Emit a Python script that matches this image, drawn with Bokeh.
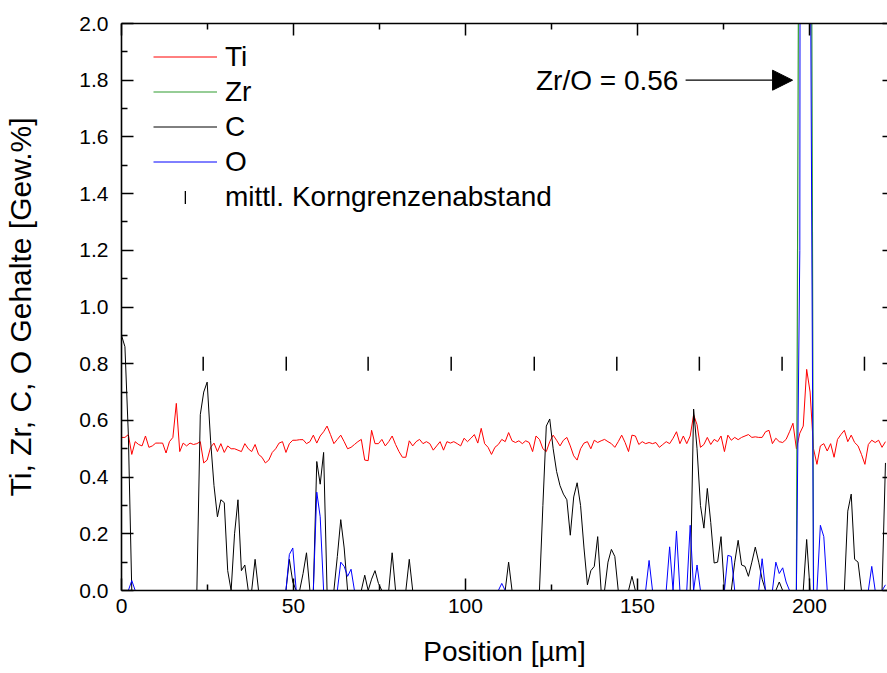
import numpy as np
from bokeh.plotting import figure
from bokeh.models import (Range1d, LinearAxis, FixedTicker, NumeralTickFormatter,
                          Label, Arrow, NormalHead, Legend, LegendItem)
from bokeh.embed import file_html
from bokeh.resources import INLINE

# ---------------- data ----------------
STEP_UM = 0.996  # spacing of the line-scan points in µm

ti = [0.54, 0.54, 0.55, 0.48, 0.525, 0.515, 0.51, 0.545, 0.505, 0.51,
      0.52, 0.52, 0.52, 0.485, 0.525, 0.54, 0.66, 0.49, 0.52, 0.51,
      0.52, 0.515, 0.518, 0.525, 0.45, 0.46, 0.505, 0.52, 0.49, 0.518,
      0.487, 0.51, 0.50, 0.50, 0.495, 0.49, 0.518, 0.50, 0.49, 0.515,
      0.48, 0.47, 0.45, 0.46, 0.487, 0.50, 0.52, 0.525, 0.487, 0.518,
      0.53, 0.53, 0.532, 0.532, 0.518, 0.525, 0.548, 0.52, 0.545, 0.56,
      0.58, 0.55, 0.518, 0.533, 0.548, 0.525, 0.50, 0.505, 0.515, 0.525,
      0.533, 0.46, 0.458, 0.565, 0.518, 0.518, 0.533, 0.51, 0.525, 0.545,
      0.515, 0.49, 0.47, 0.47, 0.528, 0.51, 0.525, 0.533, 0.518, 0.525,
      0.518, 0.495, 0.51, 0.525, 0.495, 0.525, 0.52, 0.525, 0.518, 0.51,
      0.537, 0.525, 0.537, 0.55, 0.52, 0.572, 0.518, 0.505, 0.48, 0.505,
      0.515, 0.533, 0.525, 0.557, 0.528, 0.522, 0.528, 0.518, 0.528, 0.522,
      0.49, 0.545, 0.533, 0.50, 0.49, 0.525, 0.548, 0.53, 0.51, 0.53,
      0.54, 0.51, 0.475, 0.46, 0.50, 0.52, 0.525, 0.50, 0.53, 0.522,
      0.528, 0.533, 0.525, 0.518, 0.505, 0.525, 0.548, 0.522, 0.49, 0.548,
      0.545, 0.515, 0.525, 0.518, 0.522, 0.518, 0.522, 0.505, 0.515, 0.525,
      0.518, 0.537, 0.56, 0.518, 0.545, 0.518, 0.545, 0.62, 0.585, 0.505,
      0.515, 0.54, 0.515, 0.533, 0.525, 0.545, 0.49, 0.548, 0.53, 0.54,
      0.532, 0.54, 0.545, 0.55, 0.54, 0.542, 0.54, 0.54, 0.56, 0.565,
      0.518, 0.537, 0.525, 0.522, 0.533, 0.56, 0.59, 0.50, 0.555, 0.58,
      0.78, 0.70, 0.50, 0.445, 0.51, 0.518, 0.492, 0.518, 0.47, 0.533,
      0.55, 0.565, 0.525, 0.548, 0.522, 0.51, 0.48, 0.445, 0.515, 0.53,
      0.522, 0.53, 0.505, 0.525]

zr = [0, 0, 0, 0, 0, 0, 0, 0, 0, 0,
      0, 0, 0, 0, 0, 0, 0, 0, 0, 0,
      0, 0, 0, 0, 0, 0, 0, 0, 0, 0,
      0, 0, 0, 0, 0, 0, 0, 0, 0, 0,
      0, 0, 0, 0, 0, 0, 0, 0, 0, 0,
      0, 0, 0, 0, 0, 0, 0, 0, 0, 0,
      0, 0, 0, 0, 0, 0, 0, 0, 0, 0,
      0, 0, 0, 0, 0, 0, 0, 0, 0, 0,
      0, 0, 0, 0, 0, 0, 0, 0, 0, 0,
      0, 0, 0, 0, 0, 0, 0, 0, 0, 0,
      0, 0, 0, 0, 0, 0, 0, 0, 0, 0,
      0, 0, 0, 0, 0, 0, 0, 0, 0, 0,
      0, 0, 0, 0, 0, 0, 0, 0, 0, 0,
      0, 0, 0, 0, 0, 0, 0, 0, 0, 0,
      0, 0, 0, 0, 0, 0, 0, 0, 0, 0,
      0, 0, 0, 0, 0, 0, 0, 0, 0, 0,
      0, 0, 0, 0, 0, 0, 0, 0, 0, 0,
      0, 0, 0, 0, 0, 0, 0, 0, 0, 0,
      0, 0, 0, 0, 0, 0, 0, 0, 0, 0,
      0, 0, 0, 0, 0, 0, 0, 0, 3.5, 9.0,
      9.0, 4.0, 0, 0, 0, 0, 0, 0, 0, 0,
      0, 0, 0, 0, 0, 0, 0, 0, 0, 0,
      0, 0, 0, 0]

c = [0.90, 0.86, 0.55, 0, 0, 0, 0, 0, 0, 0,
     0, 0, 0, 0, 0, 0, 0, 0, 0, 0,
     0, 0, 0, 0.62, 0.70, 0.735, 0.53, 0.37, 0.26, 0.32,
     0.31, 0.07, 0, 0.20, 0.32, 0.07, 0.09, 0, 0, 0.11,
     0, 0, 0, 0, 0, 0, 0, 0, 0, 0.11,
     0.03, 0, 0, 0.06, 0.133, 0, 0, 0.455, 0.375, 0.487,
     0, 0, 0, 0.12, 0.25, 0.15, 0, 0, 0, 0,
     0, 0.054, 0, 0.04, 0.07, 0.025, 0, 0, 0, 0.133,
     0, 0, 0, 0, 0.11, 0, 0, 0, 0, 0,
     0, 0, 0, 0, 0, 0, 0, 0, 0, 0,
     0, 0, 0, 0, 0, 0, 0, 0, 0, 0,
     0, 0, 0, 0.10, 0, 0, 0, 0, 0, 0,
     0, 0, 0, 0.30, 0.58, 0.605, 0.50, 0.42, 0.37, 0.34,
     0.32, 0.195, 0.33, 0.38, 0.30, 0.15, 0.02, 0.07, 0.085, 0.19,
     0, 0, 0.10, 0.145, 0.12, 0, 0, 0, 0, 0.05,
     0, 0, 0, 0, 0, 0, 0, 0, 0, 0,
     0, 0, 0, 0, 0, 0, 0, 0.64, 0.50, 0.30,
     0.22, 0.36, 0.24, 0.097, 0.10, 0.19, 0, 0, 0, 0.10,
     0.177, 0.09, 0.085, 0.05, 0.10, 0.153, 0.10, 0.04, 0, 0,
     0, 0, 0.03, 0, 0, 0, 0, 0, 0, 0,
     0.18, 0, 0, 0, 0, 0, 0, 0, 0, 0,
     0, 0, 0.28, 0.34, 0.11, 0.10, 0, 0, 0, 0,
     0, 0, 0, 0.45]

o = [0, 0, 0, 0.035, 0, 0, 0, 0, 0, 0,
     0, 0, 0, 0, 0, 0, 0, 0, 0, 0,
     0, 0, 0, 0, 0, 0, 0, 0, 0, 0,
     0, 0, 0, 0, 0, 0, 0, 0, 0, 0,
     0, 0, 0, 0, 0, 0, 0, 0, 0, 0.127,
     0.15, 0, 0, 0, 0, 0, 0, 0.347, 0.26, 0,
     0, 0, 0, 0, 0.10, 0.085, 0.05, 0.075, 0, 0,
     0, 0, 0, 0, 0, 0, 0, 0, 0, 0,
     0, 0, 0, 0, 0, 0, 0, 0, 0, 0,
     0, 0, 0, 0, 0, 0, 0, 0, 0, 0,
     0, 0, 0, 0, 0, 0, 0, 0, 0, 0,
     0, 0.025, 0, 0, 0, 0, 0, 0, 0, 0,
     0, 0, 0, 0, 0, 0, 0, 0, 0, 0,
     0, 0, 0, 0, 0, 0, 0, 0, 0, 0,
     0, 0, 0, 0, 0, 0, 0, 0, 0, 0,
     0, 0, 0, 0, 0.106, 0, 0, 0, 0, 0,
     0.154, 0, 0.21, 0, 0, 0, 0.23, 0, 0.09, 0,
     0, 0, 0, 0, 0, 0, 0, 0.124, 0.12, 0,
     0, 0, 0, 0, 0, 0, 0, 0.112, 0, 0,
     0, 0.10, 0.06, 0.08, 0.03, 0, 0, 0, 1.2, 16.0,
     16.0, 2.5, 0, 0, 0.23, 0.19, 0, 0, 0, 0,
     0, 0, 0, 0, 0, 0, 0, 0, 0, 0.085,
     0, 0, 0, 0.02]

position = np.arange(len(ti)) * STEP_UM

grain_x = [23.75, 47.9, 71.7, 95.85, 120.0, 144.0, 168.0, 192.05, 216.0]
grain_y = [0.80, 0.80, 0.80, 0.80, 0.80, 0.80, 0.80, 0.80, 0.80]

x_major_ticks = [0, 50, 100, 150, 200]
x_minor_ticks = [25, 75, 125, 175]
y_major_ticks = [0.0, 0.2, 0.4, 0.6, 0.8, 1.0, 1.2, 1.4, 1.6, 1.8, 2.0]
y_minor_ticks = [0.1, 0.3, 0.5, 0.7, 0.9, 1.1, 1.3, 1.5, 1.7, 1.9]

y_title = "Ti, Zr, C, O Gehalte [Gew.%]"
x_title = "Position [µm]"
annot_text = "Zr/O = 0.56"
annot_x_text = 161.9
annot_x_start = 164.0
annot_x_end = 195.1
annot_y = 1.80

# ---------------- figure ----------------
FONT = "Liberation Sans"
X_END = 222.7

p = figure(width=887, height=673, output_backend="svg", toolbar_location=None,
           x_range=Range1d(0, X_END), y_range=Range1d(0, 2.0),
           x_axis_location=None, y_axis_location=None,
           min_border_left=121, min_border_right=0, min_border_top=23, min_border_bottom=83,
           outline_line_color=None, background_fill_color="white", border_fill_color="white")
p.xgrid.visible = False
p.ygrid.visible = False


def style(ax, tick_in=12, minor_in=6):
    ax.axis_line_color = "black"
    ax.axis_line_width = 1.6
    ax.major_tick_in = tick_in
    ax.major_tick_out = 0
    ax.minor_tick_in = minor_in
    ax.minor_tick_out = 0
    ax.major_tick_line_color = "black"
    ax.minor_tick_line_color = "black"
    ax.major_tick_line_width = 1.5
    ax.minor_tick_line_width = 1.5
    ax.major_label_text_font = FONT
    ax.major_label_text_font_size = "21px"
    ax.major_label_text_color = "black"
    ax.axis_label_text_font = FONT
    ax.axis_label_text_font_style = "normal"
    ax.axis_label_text_color = "black"


xb = LinearAxis(ticker=FixedTicker(ticks=x_major_ticks, minor_ticks=x_minor_ticks),
                axis_label=x_title)
style(xb)
xb.major_label_standoff = 8
xb.axis_label_text_font_size = "28px"
xb.axis_label_standoff = 20
p.add_layout(xb, "below")

yl = LinearAxis(ticker=FixedTicker(ticks=y_major_ticks, minor_ticks=y_minor_ticks),
                formatter=NumeralTickFormatter(format="0.0"),
                axis_label=y_title)
style(yl)
yl.major_label_standoff = 13
yl.axis_label_text_font_size = "30px"
yl.axis_label_standoff = 39
p.add_layout(yl, "left")

# mirrored top axis (ticks only, tick values cut away like in the reference)
xt = LinearAxis(ticker=FixedTicker(ticks=x_major_ticks, minor_ticks=x_minor_ticks))
style(xt)
xt.major_label_text_font_size = "0px"
xt.major_label_standoff = 0
p.add_layout(xt, "above")

# mirrored right axis: only the tips of its major ticks are inside the picture
yr = LinearAxis(ticker=FixedTicker(ticks=y_major_ticks, minor_ticks=y_minor_ticks),
                formatter=NumeralTickFormatter(format="0.0"))
style(yr, tick_in=5, minor_in=0)
yr.axis_line_color = None
yr.minor_tick_line_color = None
yr.major_label_text_font_size = "0px"
yr.major_label_standoff = 0
p.add_layout(yr, "right")

r_ti = p.line(position, ti, line_color="#FF0000", line_width=1.0)
r_zr = p.line(position, zr, line_color="#2E9B2E", line_width=1.2)
r_c = p.line(position, c, line_color="black", line_width=1.0)
r_o = p.line(position, o, line_color="#0000FF", line_width=1.0)
r_g = p.rect(grain_x, grain_y, width=1.5, height=14, width_units="screen",
             height_units="screen", fill_color="black", line_color=None)

legend = Legend(items=[LegendItem(label="Ti", renderers=[r_ti]),
                       LegendItem(label="Zr", renderers=[r_zr]),
                       LegendItem(label="C", renderers=[r_c]),
                       LegendItem(label="O", renderers=[r_o])],
                location=(32, 411), border_line_color=None, background_fill_alpha=0,
                label_text_font=FONT, label_text_font_size="28px", label_text_color="black",
                glyph_width=64, glyph_height=35, label_height=35, label_standoff=8,
                spacing=0, padding=0, margin=0)
p.add_layout(legend)

legend2 = Legend(items=[LegendItem(label="mittl. Korngrenzenabstand", renderers=[r_g])],
                 location=(63, 376), border_line_color=None, background_fill_alpha=0,
                 label_text_font=FONT, label_text_font_size="28px", label_text_color="black",
                 glyph_width=2, glyph_height=16, label_height=35, label_standoff=39,
                 spacing=0, padding=0, margin=0)
p.add_layout(legend2)

p.add_layout(Label(x=annot_x_text, y=annot_y, text=annot_text, text_font=FONT,
                   text_font_size="28px", text_align="right", text_baseline="middle",
                   text_color="black"))
p.add_layout(Arrow(end=NormalHead(size=20, fill_color="black", line_color="black"),
                   x_start=annot_x_start, y_start=annot_y, x_end=annot_x_end, y_end=annot_y,
                   line_color="black", line_width=1.2))

open("out.html", "w").write(file_html(p, INLINE))
